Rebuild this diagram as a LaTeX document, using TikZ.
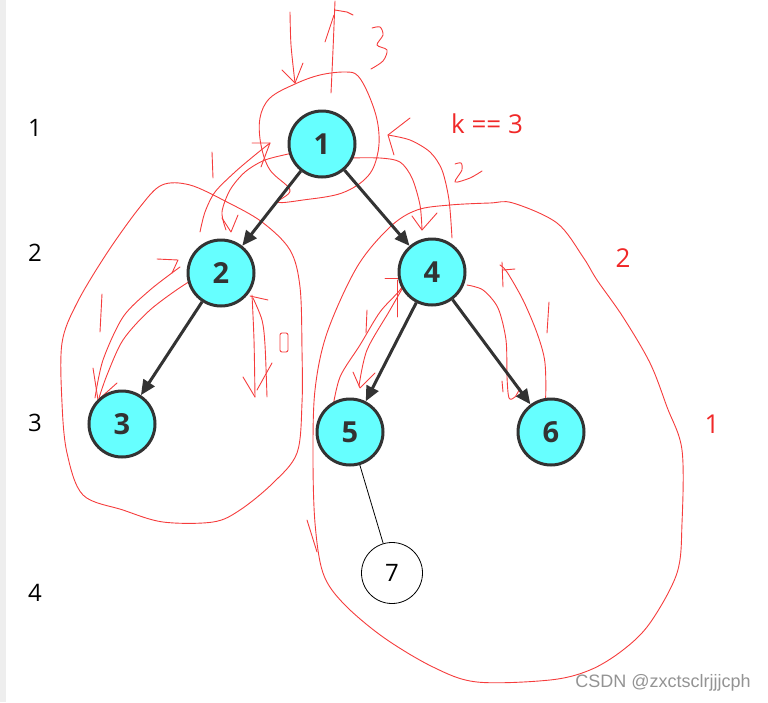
\documentclass[tikz,border=0pt]{standalone}
\usepackage{fontspec}
\setmainfont{Open Sans}
\newfontfamily\wmfont{Liberation Sans}
\usetikzlibrary{arrows.meta}
\definecolor{nodecyan}{RGB}{102,255,255}
\definecolor{edgegray}{RGB}{51,51,51}
\definecolor{penred}{RGB}{245,60,60}
\definecolor{marktext}{RGB}{240,40,40}
\tikzset{
 treenode/.style={circle, draw=edgegray, line width=3pt, fill=nodecyan, minimum size=66pt, inner sep=0pt, font=\fontsize{29}{31}\selectfont\bfseries, text=edgegray},
 plainnode/.style={circle, draw=black, line width=0.8pt, fill=white, minimum size=61pt, inner sep=0pt, font=\fontsize{24}{26}\selectfont},
 treeedge/.style={draw=edgegray, line width=3pt, -{Triangle[length=15pt,width=13pt]}},
 pen/.style={draw=penred, line width=0.9pt, line cap=round, line join=round},
 levellabel/.style={font=\fontsize{24}{26}\selectfont, text=black},
 redlabel/.style={font=\fontsize{26}{28}\selectfont, text=marktext},
}
\begin{document}
\begin{tikzpicture}[x=1pt,y=-1pt]
\useasboundingbox (0,0) rectangle (768,702);
\fill[gray!13] (0,0) rectangle (6,702);

% level labels
\node[levellabel] (l1) at (35,128) {1};
\node[levellabel] (l2) at (35,253) {2};
\node[levellabel] (l3) at (35,423) {3};
\node[levellabel] (l4) at (35,593) {4};

% red hand-written strokes
% circle around node 1
\draw[pen] plot[smooth cycle, tension=0.6] coordinates {(295,84) (320,75) (345,72) (358,76) (370,98) (378,125) (378,152) (368,176) (342,193) (303,200) (278,202) (290,190) (270,170) (261,145) (260,118) (270,98)};
% down arrow top-left
\draw[pen] plot[smooth] coordinates {(290,12) (291,45) (295,83)};
\draw[pen] (282,70) -- (295,83) -- (303,63);
% up arrow top
\draw[pen] plot[smooth] coordinates {(331,93) (333,50) (335,1)};
\draw[pen] (325,42) -- (334,15);
\draw[pen] (335,10) -- (347,12) -- (353,15);
% hand "3"
\draw[pen] plot[smooth] coordinates {(372,28) (380,27) (383,35) (377,45) (387,50) (383,61) (371,69)};
% 1 -> 4
\draw[pen] plot[smooth] coordinates {(346,158) (380,158) (400,162) (412,178) (420,205) (422,230)};
\draw[pen] (412,216) -- (422,230) -- (437,213);
% 4 -> 1
\draw[pen] plot[smooth] coordinates {(452,238) (449,200) (442,170) (430,152) (410,140) (388,135)};
\draw[pen] (410,118) -- (388,135) -- (394,155);
% hand "2"
\draw[pen] plot[smooth] coordinates {(455,164) (461,163) (462,170) (455,182) (470,178) (482,171)};
% hand "1" top-left
\draw[pen] (212,152) -- (213,178);
% 1 -> 2
\draw[pen] plot[smooth] coordinates {(293,153) (265,160) (245,172) (230,190) (222,212) (226,230)};
\draw[pen] (222,218) -- (231,232) -- (238,215);
% 2 -> 1
\draw[pen] plot[smooth] coordinates {(200,232) (205,212) (215,192) (235,172) (255,155) (270,143)};
\draw[pen] (252,143) -- (270,143) -- (261,167);

% left blob
\draw[pen] plot[smooth cycle, tension=0.55] coordinates {(162,185) (190,185) (227,202) (262,222) (290,250) (300,287) (302,350) (302,403) (297,453) (273,483) (240,510) (213,522) (163,522) (123,510) (83,495) (67,453) (62,403) (62,343) (77,303) (107,253) (140,207)};
% 2 -> 3
\draw[pen] plot[smooth] coordinates {(210,273) (187,283) (150,310) (123,340) (107,375) (99,398)};
\draw[pen] (93,368) -- (98,400) -- (117,383);
% 3 -> 2
\draw[pen] plot[smooth] coordinates {(95,398) (103,360) (123,317) (150,290) (180,267)};
\draw[pen] (157,259) -- (178,260) -- (172,273);
% hand "1"
\draw[pen] (102,294) -- (100,332);
% down line right of 2
\draw[pen] plot[smooth] coordinates {(252,295) (254,340) (255,397)};
\draw[pen] (243,377) -- (255,397);
\draw[pen] (272,363) -- (257,390);
% up line right of 2
\draw[pen] plot[smooth] coordinates {(267,397) (265,345) (262,320) (253,298)};
\draw[pen] (250,296) -- (268,300);
% hand "0"
\draw[pen, rounded corners=2pt] (280,333) rectangle (288,352);

% right blob
\draw[pen] plot[smooth cycle, tension=0.55] coordinates {(450,205) (490,203) (513,203) (557,223) (583,257) (597,280) (623,317) (650,363) (667,407) (682,450) (682,523) (677,573) (650,623) (623,650) (590,670) (550,680) (477,682) (433,667) (383,637) (343,603) (323,573) (315,523) (313,457) (315,390) (327,333) (357,267) (390,227) (417,210)};
\draw[pen] (307,520) -- (317,552);
% 4 -> 5
\draw[pen] plot[smooth] coordinates {(410,275) (390,310) (367,350) (359,386)};
\draw[pen] (353,372) -- (360,388) -- (375,373);
% 5 -> 4
\draw[pen] plot[smooth] coordinates {(332,412) (340,377) (360,345) (380,312) (400,290) (408,275)};
\draw[pen] (385,278) -- (407,278);
\draw[pen] (397,280) -- (397,317);
% hand "1"
\draw[pen] (367,310) -- (366,333);
% 4 -> 6
\draw[pen] plot[smooth] coordinates {(467,285) (483,290) (498,308) (506,340) (507,377) (509,398) (515,397) (520,388)};
\draw[pen] (502,381) -- (503,392);
% 6 -> 4
\draw[pen] plot[smooth] coordinates {(537,423) (545,407) (545,363) (537,333) (523,300) (507,272) (500,265)};
\draw[pen] (502,262) -- (503,287);
\draw[pen] (503,270) -- (515,269);
% hand "1"
\draw[pen] (549,302) -- (547,333);

% red labels
\node[redlabel] (kk) at (487,124) {k == 3};
\node[redlabel] (r2) at (623,258) {2};
\node[redlabel] (r1) at (712,424) {1};

% tree
\node[treenode] (n1) at (322,144) {1};
\node[treenode] (n2) at (221,273) {2};
\node[treenode] (n4) at (432,272) {4};
\node[treenode] (n3) at (122,424) {3};
\node[treenode] (n5) at (350,432) {5};
\node[treenode] (n6) at (551,432) {6};
\node[plainnode] (n7) at (392,573) {7};

\draw[treeedge] (n1) -- (n2);
\draw[treeedge] (n1) -- (n4);
\draw[treeedge] (n2) -- (n3);
\draw[treeedge] (n4) -- (n5);
\draw[treeedge] (n4) -- (n6);
\draw[black, line width=0.8pt] (n5) -- (n7);

% watermark
\node[font=\wmfont\fontsize{18}{20}\selectfont, text=gray!85] (wm) at (663,683) {CSDN @zxctsclrjjjcph};
\end{tikzpicture}
\end{document}
